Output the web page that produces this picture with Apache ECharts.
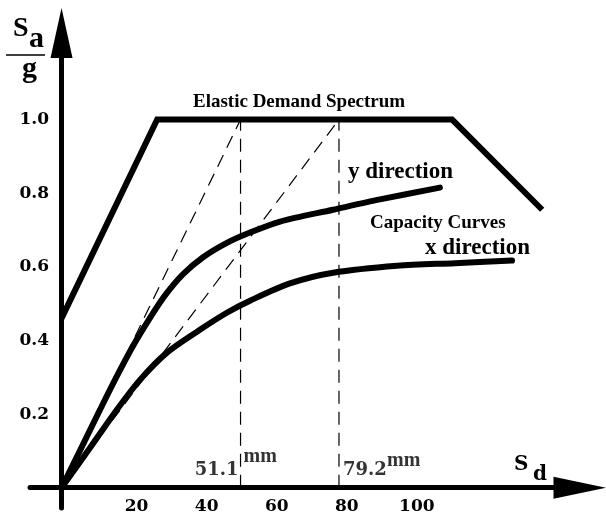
<!DOCTYPE html>
<html>
<head>
<meta charset="utf-8">
<script src="https://cdn.jsdelivr.net/npm/echarts@6/dist/echarts.min.js"></script>
<style>
  html, body { margin: 0; padding: 0; background: #fff; }
  #chart { width: 606px; height: 517px; }
</style>
</head>
<body>
<div id="chart"></div>
<script>
// Tick labels on the two axes
const sdTicks = [20, 40, 60, 80, 100];
const saTicks = [0.2, 0.4, 0.6, 0.8, 1.0];

// Elastic demand spectrum (Sd in mm, Sa/g)
const demandSd = [0, 27.3, 111.5, 137.2];
const demandSa = [0.46, 1.0, 1.0, 0.755];

// Capacity curve, y direction
const capYSd = [0, 6.1, 11.0, 15.8, 20.4, 25.3, 29.6, 34.7, 40.4, 47.2, 53.8, 62.4, 77.5, 90.9, 108.0];
const capYSa = [0, 0.117, 0.212, 0.303, 0.385, 0.462, 0.523, 0.580, 0.626, 0.665, 0.693, 0.723, 0.755, 0.783, 0.815];

// Capacity curve, x direction
const capXSd = [0, 8.1, 15.8, 22.4, 30.1, 39.5, 47.3, 53.8, 65.2, 77.5, 95.8, 112.3, 128.6];
const capXSa = [0, 0.108, 0.212, 0.293, 0.367, 0.429, 0.476, 0.508, 0.555, 0.584, 0.603, 0.610, 0.617];

// Spectral displacements where the initial-stiffness lines meet the plateau
const periodSd = [51.1, 79.2];

const NUM_FONT = 'DejaVu Serif';
const TXT_FONT = 'Liberation Serif';

const pairs = (xs, ys) => xs.map((x, i) => [x, ys[i]]);
const plateauSa = demandSa[1];

const thick = (extra) => Object.assign({
  type: 'line',
  symbol: 'none',
  silent: true,
  z: 4,
  lineStyle: { color: '#000', width: 6, cap: 'round', join: 'round' }
}, extra);

const dashed = (data) => ({
  type: 'line',
  symbol: 'none',
  silent: true,
  z: 2,
  data: data,
  lineStyle: { color: '#000', width: 1.2, type: [13, 8] }
});

// Layout of the value labels next to each vertical line
const numberLabelStyle = [
  { position: [-2, -17], align: 'right' },
  { position: [4, -17], align: 'left' }
];
const unitLabelStyle = [
  { position: [3, -31], align: 'left' },
  { position: [48, -27], align: 'left' }
];

const chart = echarts.init(document.getElementById('chart'), null, { renderer: 'canvas' });

const option = {
  animation: false,
  backgroundColor: '#fff',
  grid: { left: 30, right: 26, top: 33, bottom: 9, containLabel: false, outerBoundsMode: 'none' },
  xAxis: {
    type: 'value',
    min: -9,
    max: 148,
    splitLine: { show: false },
    axisTick: { show: false },
    axisLine: {
      onZero: true,
      lineStyle: { color: '#000', width: 5 },
      symbol: ['none', 'triangle'],
      symbolSize: [22, 53]
    },
    axisLabel: {
      customValues: sdTicks,
      formatter: (v) => String(v),
      color: '#000',
      fontFamily: NUM_FONT,
      fontWeight: 'bold',
      fontSize: 17,
      // labels sit just under the crossing axis line, not at the grid edge
      margin: -10,
      padding: [0, 0, 0, 10]
    }
  },
  yAxis: {
    type: 'value',
    min: -0.055,
    max: 1.235,
    splitLine: { show: false },
    axisTick: { show: false },
    axisLine: {
      onZero: true,
      lineStyle: { color: '#000', width: 5 },
      symbol: ['none', 'triangle'],
      symbolSize: [22, 50]
    },
    axisLabel: {
      customValues: saTicks,
      formatter: (v) => v.toFixed(1),
      color: '#000',
      fontFamily: NUM_FONT,
      fontWeight: 'bold',
      fontSize: 17,
      // right edge of the labels a little left of the crossing axis line
      margin: -19
    }
  },
  series: [
    thick({ name: 'Elastic Demand Spectrum', data: pairs(demandSd, demandSa),
            lineStyle: { color: '#000', width: 6, cap: 'butt', join: 'miter' } }),
    thick({ name: 'y direction', smooth: 0.3, data: pairs(capYSd, capYSa) }),
    thick({ name: 'x direction', smooth: 0.3, data: pairs(capXSd, capXSa) }),
    ...periodSd.map(v => dashed([[0, 0], [v, plateauSa]])),
    ...periodSd.map(v => dashed([[v, 0], [v, plateauSa]])),
    {
      type: 'scatter',
      silent: true,
      symbolSize: 0,
      z: 5,
      data: periodSd.map((v, i) => ({
        value: [v, 0],
        label: Object.assign({
          show: true,
          formatter: (p) => p.value[0].toFixed(1),
          verticalAlign: 'middle',
          color: '#000',
          fontFamily: NUM_FONT,
          fontWeight: 'bold',
          fontSize: 18
        }, numberLabelStyle[i])
      }))
    },
    {
      type: 'scatter',
      silent: true,
      symbolSize: 0,
      z: 5,
      data: periodSd.map((v, i) => ({
        value: [v, 0],
        label: Object.assign({
          show: true,
          formatter: 'mm',
          verticalAlign: 'middle',
          color: '#000',
          fontFamily: TXT_FONT,
          fontWeight: 'bold',
          fontSize: 20
        }, unitLabelStyle[i])
      }))
    }
  ],
  graphic: [
    { type: 'text', x: 193, y: 102, silent: true,
      style: { text: 'Elastic Demand Spectrum', fill: '#000', font: 'bold 19px "Liberation Serif"', align: 'left', verticalAlign: 'middle' } },
    { type: 'text', x: 348, y: 172, silent: true,
      style: { text: 'y direction', fill: '#000', font: 'bold 23px "Liberation Serif"', align: 'left', verticalAlign: 'middle' } },
    { type: 'text', x: 370, y: 223, silent: true,
      style: { text: 'Capacity Curves', fill: '#000', font: 'bold 19px "Liberation Serif"', align: 'left', verticalAlign: 'middle' } },
    { type: 'text', x: 425, y: 248, silent: true,
      style: { text: 'x direction', fill: '#000', font: 'bold 23px "Liberation Serif"', align: 'left', verticalAlign: 'middle' } },
    // horizontal axis title S_d
    { type: 'text', x: 514, y: 465, silent: true,
      style: { text: 'S', fill: '#000', font: 'bold 20px "DejaVu Serif"', align: 'left', verticalAlign: 'middle' } },
    { type: 'text', x: 533, y: 475, silent: true,
      style: { text: 'd', fill: '#000', font: 'bold 20px "DejaVu Serif"', align: 'left', verticalAlign: 'middle' } },
    // vertical axis title S_a / g
    { type: 'text', x: 13, y: 28.5, silent: true,
      style: { text: 'S', fill: '#000', font: 'bold 28px "Liberation Serif"', align: 'left', verticalAlign: 'middle' } },
    { type: 'text', x: 29, y: 39, silent: true,
      style: { text: 'a', fill: '#000', font: 'bold 30px "Liberation Serif"', align: 'left', verticalAlign: 'middle' } },
    { type: 'line', silent: true,
      shape: { x1: 6, y1: 55, x2: 45, y2: 55 },
      style: { stroke: '#000', lineWidth: 1.5 } },
    { type: 'text', x: 22, y: 69.5, silent: true,
      style: { text: 'g', fill: '#000', font: 'bold 30px "Liberation Serif"', align: 'left', verticalAlign: 'middle' } }
  ]
};

chart.setOption(option);
</script>
</body>
</html>
